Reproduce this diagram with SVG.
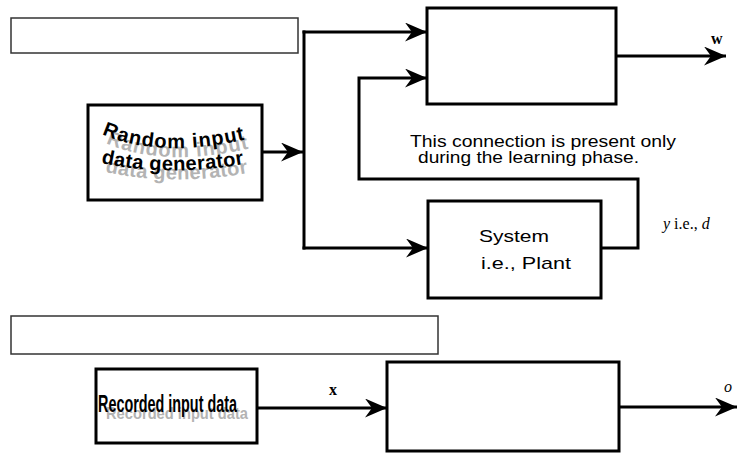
<svg xmlns="http://www.w3.org/2000/svg" width="737" height="456" viewBox="0 0 737 456">
<style>
.box{fill:#fff;stroke:#000;stroke-width:3}
.empty{fill:#fff;stroke:#333;stroke-width:1.5}
.wire{fill:none;stroke:#000;stroke-width:3}
.arr{fill:none;stroke:#000;stroke-width:3;marker-end:url(#ah)}
.sans{font-family:"Liberation Sans",Arial,sans-serif;fill:#000}
.serif{font-family:"Liberation Serif","Times New Roman",serif;fill:#000}
.wavy{font-family:"Liberation Sans",Arial,sans-serif;font-weight:bold;font-size:20px}
</style>
<defs>
<marker id="ah" markerUnits="userSpaceOnUse" markerWidth="23" markerHeight="19" refX="22" refY="9.5" orient="auto" viewBox="0 0 23 19">
<path d="M0,0 L22,9.5 L0,19 L7,9.5 z" fill="#000"/>
</marker>
<path id="wave1" d="M102,134 Q160,160 252,138"/>
<path id="wave2" d="M101,163 Q170,178 250,163"/>
</defs>

<g id="title-top"><rect class="empty" x="11" y="18" width="287" height="35"/></g>
<g id="title-bottom"><rect class="empty" x="11" y="316" width="427" height="38"/></g>

<g id="generator">
<rect class="box" x="88" y="105" width="174" height="95"/>
<g transform="translate(4,9)">
<text class="wavy" fill="#b3b3b3" letter-spacing="1"><textPath href="#wave1">Random input</textPath></text>
<text class="wavy" fill="#b3b3b3" letter-spacing="0.4"><textPath href="#wave2">data generator</textPath></text>
</g>
<text class="wavy" fill="#000" letter-spacing="1"><textPath href="#wave1">Random input</textPath></text>
<text class="wavy" fill="#000" letter-spacing="0.4"><textPath href="#wave2">data generator</textPath></text>
</g>

<g id="model-top"><rect class="box" x="427" y="8" width="189" height="96"/></g>

<g id="plant">
<rect class="box" x="428" y="201" width="173" height="97"/>
<text class="sans" x="479" y="242" font-size="17" textLength="70" lengthAdjust="spacingAndGlyphs">System</text>
<text class="sans" x="481" y="269" font-size="17" textLength="90" lengthAdjust="spacingAndGlyphs">i.e., Plant</text>
</g>

<g id="recorded">
<rect class="box" x="96" y="369" width="161" height="74"/>
<text class="sans" x="106" y="419" font-size="17" font-weight="bold" textLength="142" lengthAdjust="spacingAndGlyphs" style="fill:#b3b3b3">Recorded input data</text>
<text class="sans" x="98" y="412" font-size="23" font-weight="bold" textLength="139" lengthAdjust="spacingAndGlyphs">Recorded input data</text>
</g>

<g id="model-bottom"><rect class="box" x="387" y="362" width="232" height="89"/></g>

<g id="connectors">
<line class="arr" x1="262" y1="152" x2="303" y2="152"/>
<line class="wire" x1="304" y1="30.5" x2="304" y2="249.5"/>
<polyline class="arr" points="302.5,32 427,32"/>
<polyline class="arr" points="302.5,248 428,248"/>
<polyline class="arr" points="601,248 638,248 638,179 359,179 359,78 427,78"/>
<line class="arr" x1="616" y1="56" x2="726" y2="56"/>
<line class="arr" x1="257" y1="408" x2="387" y2="408"/>
<line class="arr" x1="619" y1="407" x2="737" y2="407"/>
</g>

<g id="labels">
<text class="sans" x="410" y="147" font-size="16" textLength="266" lengthAdjust="spacingAndGlyphs">This connection is present only</text>
<text class="sans" x="418" y="163" font-size="16" textLength="221" lengthAdjust="spacingAndGlyphs">during the learning phase.</text>
<text class="serif" x="663" y="229" font-size="16"><tspan font-style="italic">y</tspan> i.e., <tspan font-style="italic">d</tspan></text>
<text class="serif" x="711" y="44" font-size="16" font-weight="bold">w</text>
<text class="serif" x="329" y="395" font-size="16" font-weight="bold">x</text>
<text class="serif" x="724" y="392" font-size="16" font-style="italic">o</text>
</g>
</svg>
